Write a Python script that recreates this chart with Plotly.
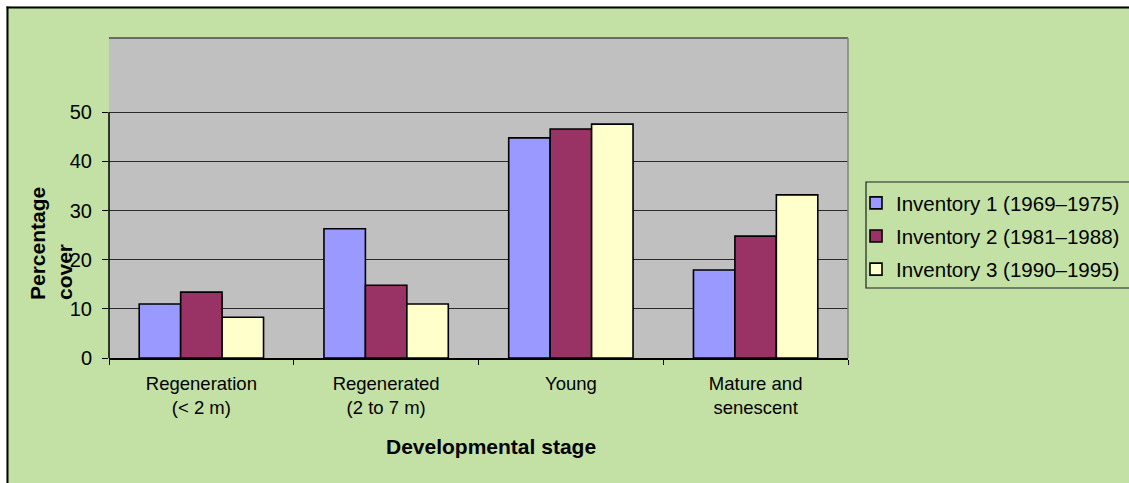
import plotly.graph_objects as go

# Developmental stage categories (two-line tick labels)
stages = ["Regeneration<br>(< 2 m)", "Regenerated<br>(2 to 7 m)", "Young", "Mature and<br>senescent"]

# Percentage cover per inventory
inv1 = [11.0, 26.3, 44.8, 17.9]
inv2 = [13.4, 14.8, 46.6, 24.8]
inv3 = [8.3, 11.0, 47.6, 33.2]

series_names = ["Inventory 1 (1969–1975)", "Inventory 2 (1981–1988)", "Inventory 3 (1990–1995)"]
series_colors = ["#9999FF", "#993366", "#FFFFCC"]

y_ticks = [0, 10, 20, 30, 40, 50]

FONT = "Liberation Sans, Arial, sans-serif"
W, H = 1129, 483
ML, MR, MT, MB = 109, 281, 38, 125
PW, PH = W - ML - MR, H - MT - MB


def px_x(px):
    return (px - ML) / PW


def px_y(py):
    return (H - MB - py) / PH


fig = go.Figure()
for name, vals, col in zip(series_names, [inv1, inv2, inv3], series_colors):
    fig.add_trace(go.Bar(
        x=stages, y=vals, name=name,
        marker=dict(color=col, line=dict(color="black", width=1.6)),
        legendgroup=name,
    ))

fig.update_layout(
    width=W, height=H,
    margin=dict(l=ML, r=MR, t=MT, b=MB, pad=0, autoexpand=False),
    paper_bgcolor="#C3E1A5",
    plot_bgcolor="#C0C0C0",
    barmode="group", bargap=0.327, bargroupgap=0,
    font=dict(family=FONT, size=20, color="black"),
    showlegend=True,
    legend=dict(
        x=px_x(856), xanchor="left", y=px_y(183), yanchor="top",
        bgcolor="rgba(0,0,0,0)", borderwidth=0,
        font=dict(family=FONT, size=20.5, color="black"),
        traceorder="grouped", tracegroupgap=3.5,
    ),
    xaxis=dict(
        showline=True, linecolor="black", linewidth=1.5,
        ticks="outside", tickson="boundaries", ticklen=5, tickcolor="black",
        showgrid=False, tickfont=dict(size=18.5), ticklabelstandoff=8,
        fixedrange=True,
    ),
    yaxis=dict(
        range=[0, PH / 49.14 * 10], tickvals=y_ticks,
        showline=False, ticks="outside", ticklen=6, tickcolor="black",
        showgrid=True, gridcolor="#2a2a2a", gridwidth=1.2,
        zeroline=False, ticklabelstandoff=6, tickfont=dict(size=20),
        fixedrange=True,
    ),
)

# plot-area frame: dark top edge, grey right edge, y-axis line up to the top tick
fig.add_shape(type="line", xref="x domain", yref="y domain", x0=0, x1=1, y0=1, y1=1,
              line=dict(color="#4a4a4a", width=1.5), layer="above")
fig.add_shape(type="line", xref="x domain", yref="y domain", x0=1, x1=1, y0=0, y1=1,
              line=dict(color="#808080", width=1.5), layer="above")
fig.add_shape(type="line", xref="x domain", yref="y", x0=0, x1=0, y0=0, y1=max(y_ticks),
              line=dict(color="black", width=1.5), layer="above")

# legend frame, running off the right edge of the chart
fig.add_shape(type="rect", xref="paper", yref="paper", x0=px_x(866), x1=px_x(W + 3),
              y0=px_y(288), y1=px_y(182), fillcolor="rgba(0,0,0,0)",
              line=dict(color="#202020", width=1.2), layer="above")

# outer chart frame (white strip and black border on the top/left sides)
fig.add_shape(type="rect", xref="paper", yref="paper", x0=px_x(0), x1=px_x(W),
              y0=px_y(6.5), y1=px_y(0), fillcolor="white", line=dict(width=0), layer="above")
fig.add_shape(type="rect", xref="paper", yref="paper", x0=px_x(0), x1=px_x(6.5),
              y0=px_y(H), y1=px_y(0), fillcolor="white", line=dict(width=0), layer="above")
fig.add_shape(type="line", xref="paper", yref="paper", x0=px_x(6.5), x1=px_x(W),
              y0=px_y(7.5), y1=px_y(7.5), line=dict(color="black", width=2), layer="above")
fig.add_shape(type="line", xref="paper", yref="paper", x0=px_x(7.5), x1=px_x(7.5),
              y0=px_y(6.5), y1=px_y(H), line=dict(color="black", width=2), layer="above")

# axis titles
fig.add_annotation(text="<b>Percentage<br>cover</b>", textangle=-90, align="left",
                   xref="paper", yref="paper", x=px_x(50.5), y=px_y(302),
                   xanchor="center", yanchor="bottom", showarrow=False,
                   font=dict(family=FONT, size=21, color="black"))
fig.add_annotation(text="<b>Developmental stage</b>",
                   xref="paper", yref="paper", x=px_x(491), y=px_y(446),
                   xanchor="center", yanchor="middle", showarrow=False,
                   font=dict(family=FONT, size=21, color="black"))

fig.write_html("out.html", config=dict(displayModeBar=False))
